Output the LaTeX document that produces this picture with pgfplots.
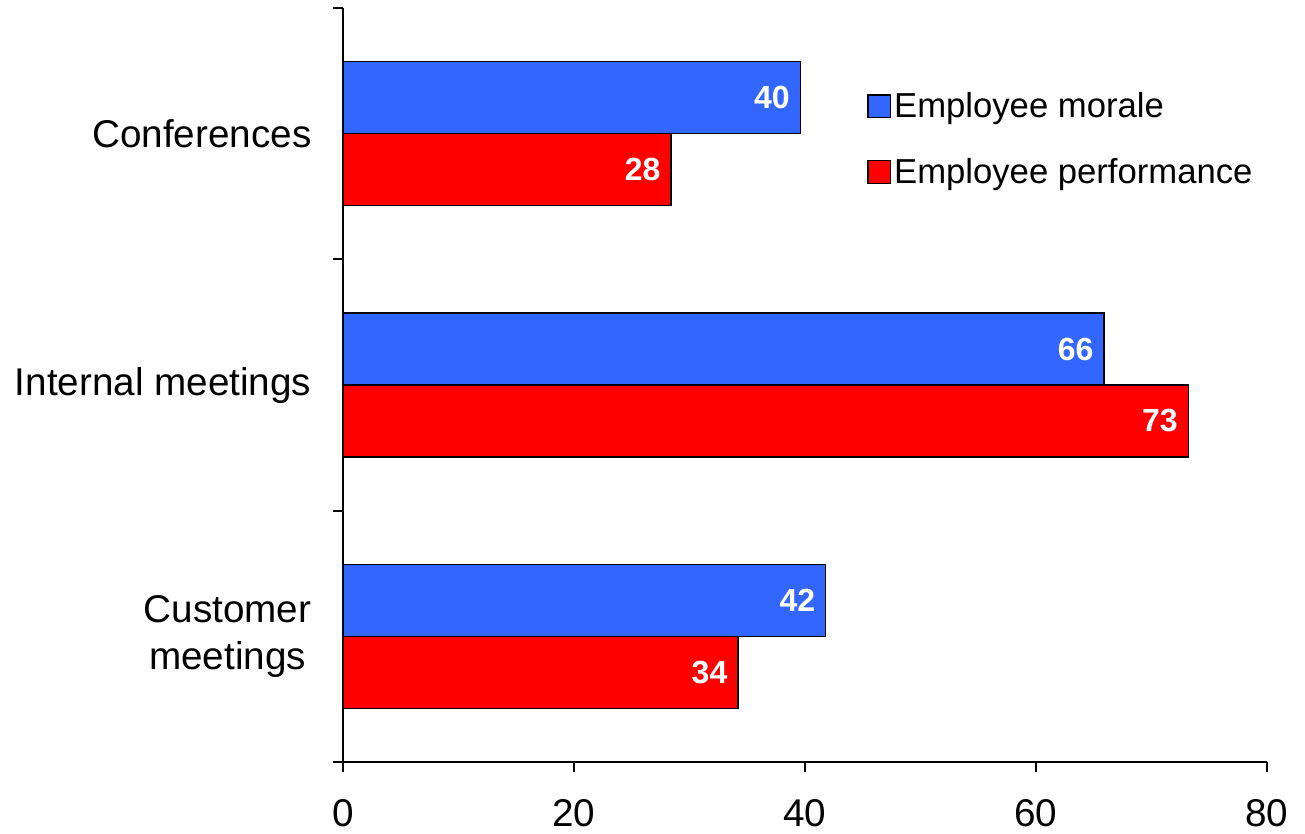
\documentclass[border=0pt]{standalone}
\usepackage{fontspec}
\setmainfont{Liberation Sans}
\usepackage{pgfplots}
\pgfplotsset{compat=1.18}
\definecolor{morale}{RGB}{51,102,255}
\definecolor{perf}{RGB}{255,0,0}
\begin{document}
\begin{tikzpicture}
\begin{axis}[
  scale only axis, width=693pt, height=565.5pt,
  xbar, bar width=54pt,
  xmin=0, xmax=80, ymin=-0.5, ymax=2.5, y dir=reverse,
  axis x line*=bottom, axis y line*=left,
  axis line style={line width=1.5pt},
  every tick/.style={black, line width=1.5pt},
  tick align=outside,
  major tick length=7.5pt,
  xtick={0,20,40,60,80},
  ytick={-0.5,0.5,1.5,2.5},
  yticklabels={Conferences, Internal meetings, {Customer\\meetings}, {}},
  yticklabel style={align=center, yshift=-94.25pt, inner sep=0pt, xshift=-16pt, font=\fontsize{29}{35}\selectfont},
  xticklabel style={inner sep=0pt, yshift=-20.5pt, font=\fontsize{29}{32}\selectfont},
  /pgf/number format/assume math mode=true,
  nodes near coords={\pgfmathprintnumber[fixed,precision=0]{\pgfplotspointmeta}},
  nodes near coords style={anchor=east, inner sep=0pt, xshift=-7.5pt, text=white, font=\fontsize{24}{28}\selectfont\bfseries},
  legend style={at={(0.563,0.895)}, anchor=north west, draw=none, fill=none,
     font=\fontsize{26}{30}\selectfont, row sep=25pt, nodes={inner sep=2pt}},
  legend cell align=left,
  legend image code/.code={\draw[#1, line width=1pt] (0pt,-8.5pt) rectangle (17pt,8.5pt);},
]
\addplot[fill=morale, draw=black, line width=1pt, bar shift=27pt] coordinates {(39.6,0) (65.9,1) (41.8,2)};
\addplot[fill=perf, draw=black, line width=1pt, bar shift=-27pt] coordinates {(28.4,0) (73.2,1) (34.2,2)};
\legend{Employee morale, Employee performance}
\coordinate (O) at (axis cs:0,2.5);
\end{axis}
\pgfresetboundingbox
\path ([shift={(-257.25pt,-54pt)}]O) rectangle ([shift={(721.5pt,571.5pt)}]O);
\end{tikzpicture}
\end{document}
